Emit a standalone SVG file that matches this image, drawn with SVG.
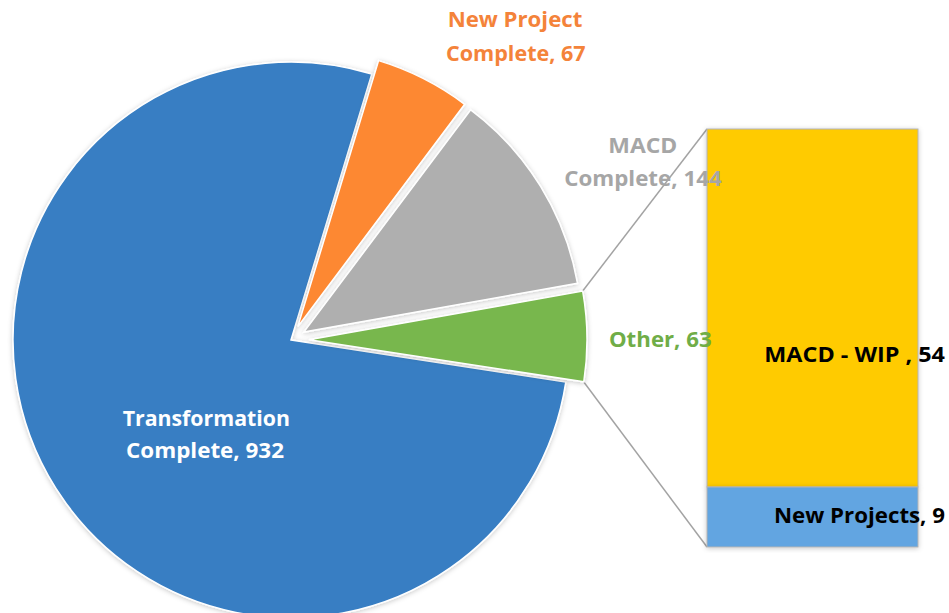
<svg xmlns="http://www.w3.org/2000/svg" width="949" height="613" viewBox="0 0 949 613">
<defs>
<filter id="sh" x="-10%" y="-10%" width="120%" height="120%">
<feDropShadow dx="0" dy="1" stdDeviation="2.5" flood-color="#000" flood-opacity="0.22"/>
</filter>
<style>
.slice{stroke:#fff;stroke-width:1.5;filter:url(#sh)}
.lbl{font-family:"Open Sans","Liberation Sans",sans-serif;font-weight:bold;font-size:21px}
.mid{text-anchor:middle}
.conn{stroke:#a3a3a3;stroke-width:1.5;fill:none}
.bar{stroke:#b4b4b4;stroke-width:1;filter:url(#sh)}
</style>
</defs>
<rect width="949" height="613" fill="#fff"/>
<g id="connectors">
<line class="conn" x1="582.7" y1="291" x2="707" y2="129"/>
<line class="conn" x1="583.8" y1="382" x2="707" y2="547"/>
</g>
<g id="transformation">
<path class="slice" fill="#377ec3" d="M291,340 L565.8,382.05 A278,278 0 1 1 371.8,74 Z"/>
</g>
<g id="newproject">
<path class="slice" fill="#fd8833" d="M297.8,326.6 L378.6,60.6 A278,278 0 0 1 464.7,104.3 Z"/>
</g>
<g id="macd">
<path class="slice" fill="#afafaf" d="M303.8,332.1 L470.7,109.8 A278,278 0 0 1 577.5,283.35 Z"/>
</g>
<g id="other">
<path class="slice" fill="#78b74e" d="M309,339.8 L582.7,291.05 A278,278 0 0 1 583.8,381.85 Z"/>
</g>
<g id="macdwip">
<rect class="bar" x="707" y="129" width="211" height="358" fill="#ffcb05"/>
</g>
<g id="newprojects">
<rect class="bar" x="707" y="487" width="211" height="60" fill="#62a5e1"/>
</g>
<g id="labels">
<text class="lbl mid" fill="#f4833a" x="515" y="27.3" textLength="134.7" lengthAdjust="spacingAndGlyphs">New Project</text>
<text class="lbl mid" fill="#f4833a" x="515.8" y="60.7" textLength="139.7" lengthAdjust="spacingAndGlyphs">Complete, 67</text>
<text class="lbl mid" fill="#a6a6a6" x="642.8" y="152.7" textLength="69" lengthAdjust="spacingAndGlyphs">MACD</text>
<text class="lbl mid" fill="#a6a6a6" x="643" y="185.5" textLength="157.4" lengthAdjust="spacingAndGlyphs">Complete, 144</text>
<text class="lbl mid" fill="#70ad47" x="660.3" y="346.7" textLength="102.7" lengthAdjust="spacingAndGlyphs">Other, 63</text>
<text class="lbl" fill="#000" x="764.3" y="362.3" textLength="180.7" lengthAdjust="spacingAndGlyphs">MACD - WIP , 54</text>
<text class="lbl" fill="#000" x="774" y="523.3" textLength="171" lengthAdjust="spacingAndGlyphs">New Projects, 9</text>
<text class="lbl mid" fill="#fff" x="206.3" y="425.7" textLength="167.3" lengthAdjust="spacingAndGlyphs">Transformation</text>
<text class="lbl mid" fill="#fff" x="205" y="458.3" textLength="158" lengthAdjust="spacingAndGlyphs">Complete, 932</text>
</g>
</svg>
